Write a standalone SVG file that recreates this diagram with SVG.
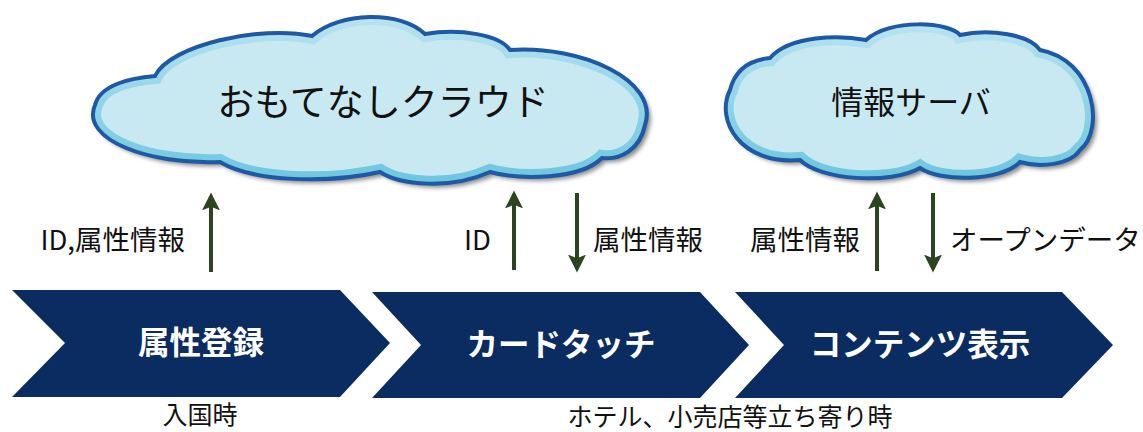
<svg xmlns="http://www.w3.org/2000/svg" width="1143" height="432" viewBox="0 0 1143 432">
<style>
.lbl{font-family:"Noto Sans CJK JP","Noto Sans",sans-serif;font-size:27.5px;fill:#111}
.blbl{font-family:"Noto Sans CJK JP","Noto Sans",sans-serif;font-size:25px;fill:#111;text-anchor:middle}
.chev{fill:#0b2c60}
.ctext{font-family:"Noto Sans CJK JP","Noto Sans",sans-serif;font-size:31.5px;font-weight:bold;fill:#fff;text-anchor:middle}
.cloudtext{font-family:"Noto Sans CJK JP","Noto Sans",sans-serif;fill:#111;text-anchor:middle}
.arr{stroke:#2b4520;stroke-width:4;fill:none;marker-end:url(#ah)}
.cfill{fill:#c9e9f2;filter:url(#sh)}
.crim{fill:none;stroke:url(#rimg);stroke-width:16}
.cline{fill:none;stroke:#1d59a6;stroke-width:4}
</style>
<defs>
<marker id="ah" viewBox="0 0 10 10" refX="8" refY="5" markerWidth="4.5" markerHeight="4.5" orient="auto">
<path d="M0,0 L10,5 L0,10 L2,5 Z" fill="#2b4520"/>
</marker>
<filter id="sh" x="-10%" y="-10%" width="130%" height="130%">
<feGaussianBlur in="SourceAlpha" stdDeviation="2"/>
<feOffset dx="4" dy="4" result="b"/>
<feFlood flood-color="#000" flood-opacity="0.45"/>
<feComposite in2="b" operator="in"/>
<feMerge><feMergeNode/><feMergeNode in="SourceGraphic"/></feMerge>
</filter>
<linearGradient id="rimg" x1="0" y1="0" x2="0" y2="1">
<stop offset="0" stop-color="#b9e3ef"/>
<stop offset="1" stop-color="#6cc6de"/>
</linearGradient>
<path id="c1" d="M155,76 C170,45 260,25 312,36 C340,12 400,10 425,34 C460,28 500,35 510,50 C580,45 660,80 645,125 C640,150 620,160 602,158 C580,180 520,180 490,172 C450,190 400,185 380,172 C320,185 250,180 220,162 C150,165 80,140 95,105 C100,85 130,78 155,76 Z"/>
<path id="c2" d="M770,58 C790,35 840,35 866,40 C890,18 950,22 960,35 C990,28 1030,35 1040,50 C1095,60 1105,130 1080,150 C1070,165 1040,168 1020,162 C1000,182 940,182 920,168 C890,185 820,180 800,160 C740,165 715,120 730,90 C735,70 750,60 770,58 Z"/>
<clipPath id="k1"><use href="#c1"/></clipPath>
<clipPath id="k2"><use href="#c2"/></clipPath>
</defs>
<rect width="1143" height="432" fill="#fff"/>

<g id="cloud-omotenashi">
<use href="#c1" class="cfill"/>
<use href="#c1" class="crim" clip-path="url(#k1)"/>
<use href="#c1" class="cline"/>
<text class="cloudtext" x="383" y="116" font-size="37">おもてなしクラウド</text>
</g>

<g id="cloud-server">
<use href="#c2" class="cfill"/>
<use href="#c2" class="crim" clip-path="url(#k2)"/>
<use href="#c2" class="cline"/>
<text class="cloudtext" x="911" y="114" font-size="32">情報サーバ</text>
</g>

<g id="step-register">
<polygon class="chev" points="12,290 340,290 390,343 340,397 12,397 65,343"/>
<text class="ctext" x="201" y="354">属性登録</text>
<text class="blbl" x="200" y="424">入国時</text>
</g>

<g id="step-touch">
<polygon class="chev" points="372,292 700,292 749,345 700,398 372,398 421,345"/>
<text class="ctext" x="561" y="356">カードタッチ</text>
</g>

<g id="step-content">
<polygon class="chev" points="735,292 1062,292 1113,345 1062,398 735,398 784,345"/>
<text class="ctext" x="920" y="356">コンテンツ表示</text>
</g>

<text class="blbl" x="730" y="426">ホテル、小売店等立ち寄り時</text>

<g id="connectors">
<line class="arr" x1="211" y1="272" x2="211" y2="196"/>
<line class="arr" x1="514" y1="270" x2="514" y2="194"/>
<line class="arr" x1="577" y1="193" x2="577" y2="269"/>
<line class="arr" x1="877" y1="271" x2="877" y2="195"/>
<line class="arr" x1="933" y1="193" x2="933" y2="269"/>
<text class="lbl" x="185" y="250" text-anchor="end">ID,属性情報</text>
<text class="lbl" x="491" y="250" text-anchor="end">ID</text>
<text class="lbl" x="593" y="250">属性情報</text>
<text class="lbl" x="860" y="250" text-anchor="end">属性情報</text>
<text class="lbl" x="950" y="250">オープンデータ</text>
</g>
</svg>
